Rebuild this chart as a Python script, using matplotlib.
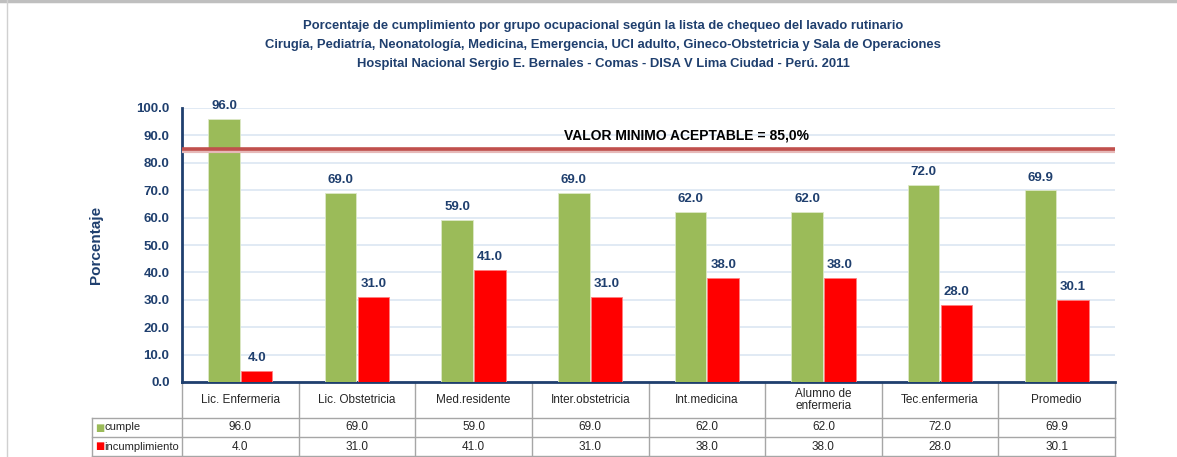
"""
Cumplimiento del lavado rutinario por grupo ocupacional (HNSEB 2011).
Bar chart with a data table drawn under the axis.
"""

import numpy as np
import matplotlib

matplotlib.use("Agg")
import matplotlib.pyplot as plt
import matplotlib.transforms as mtransforms
from matplotlib.lines import Line2D

# ---------------------------------------------------------------- data
GROUPS = ["Lic. Enfermeria", "Lic. Obstetricia", "Med.residente", "Inter.obstetricia",
          "Int.medicina", "Alumno de\nenfermeria", "Tec.enfermeria", "Promedio"]
CUMPLE = [96.0, 69.0, 59.0, 69.0, 62.0, 62.0, 72.0, 69.9]
INCUMPLIMIENTO = [4.0, 31.0, 41.0, 31.0, 38.0, 38.0, 28.0, 30.1]
SERIES = ["cumple", "incumplimiento"]
MINIMO = 85.0
YTICKS = np.arange(0, 101, 10)

TITLE = ("Porcentaje de cumplimiento por grupo ocupacional según la lista de chequeo del lavado rutinario\n"
         "Cirugía, Pediatría, Neonatología, Medicina, Emergencia, UCI adulto, Gineco-Obstetricia y Sala de Operaciones\n"
         "Hospital Nacional Sergio E. Bernales - Comas - DISA V Lima Ciudad - Perú. 2011")

# ---------------------------------------------------------------- style
NAVY, GREEN, RED, LINE = "#1F3F6E", "#9BBB59", "#FF0000", "#C0504D"
GRID, TABLE, INK = "#DCE6F2", "#A6A6A6", "#262626"
plt.rcParams.update({"font.family": ["Liberation Sans", "DejaVu Sans"], "font.size": 10})

fig = plt.figure(figsize=(11.77, 4.57), dpi=100)
ax = fig.add_axes([182 / 1177, 1 - 382 / 457, 933 / 1177, 274 / 457])

x = np.arange(len(GROUPS))
w = 0.27
ax.bar(x - 0.14, CUMPLE, w, color=GREEN, edgecolor="#DDE8C8", lw=0.6, zorder=3)
ax.bar(x + 0.14, INCUMPLIMIENTO, w, color=RED, edgecolor="#FF8080", lw=0.6, zorder=3)
for xi, v in zip(x, CUMPLE):
    ax.annotate(f"{v:.1f}", (xi - 0.14, v), xytext=(0, 5), textcoords="offset points",
                ha="center", va="bottom", color=NAVY, fontweight="bold", fontsize=9.5)
for xi, v in zip(x, INCUMPLIMIENTO):
    ax.annotate(f"{v:.1f}", (xi + 0.14, v), xytext=(0, 5), textcoords="offset points",
                ha="center", va="bottom", color=NAVY, fontweight="bold", fontsize=9.5)

# minimum acceptable line (with a soft shadow)
ax.axhline(MINIMO - 0.6, color="#E6B9B8", lw=3, zorder=4)
ax.axhline(MINIMO, color=LINE, lw=2.6, zorder=5)
ax.text(3.83, 90, "VALOR MINIMO ACEPTABLE = 85,0%", ha="center", va="center",
        fontsize=10, fontweight="bold", color="black", zorder=6)

ax.set_xlim(-0.5, len(GROUPS) - 0.5)
ax.set_ylim(0, 100)
ax.set_yticks(YTICKS)
ax.set_yticklabels([f"{t:.1f}" for t in YTICKS], color=NAVY, fontweight="bold", fontsize=9.5)
ax.tick_params(axis="y", length=0, pad=9)
ax.set_xticks([])
ax.yaxis.grid(True, color=GRID, lw=1.2, zorder=0)
ax.set_axisbelow(True)
ax.spines[["top", "right"]].set_visible(False)
for s in ["left", "bottom"]:
    ax.spines[s].set_color(NAVY)
    ax.spines[s].set_linewidth(2)
ax.set_ylabel("Porcentaje", color=NAVY, fontsize=11, fontweight="bold", labelpad=24)

# ---------------------------------------------------------------- data table
tr = mtransforms.blended_transform_factory(ax.transData, ax.transAxes)
y_head, y_r1, y_r2 = -36 / 274, -55 / 274, -74 / 274
x_lab = -0.5 - 90 / 116.6
kw = dict(transform=tr, color=TABLE, lw=1, clip_on=False)
for b in np.arange(len(GROUPS) + 1) - 0.5:
    ax.add_line(Line2D([b, b], [0, y_r2], **kw))
ax.add_line(Line2D([x_lab, x_lab], [y_head, y_r2], **kw))
for yy in (y_head, y_r1, y_r2):
    ax.add_line(Line2D([x_lab, len(GROUPS) - 0.5], [yy, yy], **kw))

for xi, g, c, n in zip(x, GROUPS, CUMPLE, INCUMPLIMIENTO):
    ax.text(xi, y_head / 2, g, transform=tr, ha="center", va="center",
            fontsize=8.5, color=INK, linespacing=0.95)
    ax.text(xi, (y_head + y_r1) / 2, f"{c:.1f}", transform=tr, ha="center",
            va="center", fontsize=8.5, color=INK)
    ax.text(xi, (y_r1 + y_r2) / 2, f"{n:.1f}", transform=tr, ha="center",
            va="center", fontsize=8.5, color=INK)

for (ylo, yhi), name, col in zip([(y_r1, y_head), (y_r2, y_r1)], SERIES, [GREEN, RED]):
    ym = (ylo + yhi) / 2
    ax.text(x_lab + 0.03, ym, "■", transform=tr, ha="left", va="center",
            fontsize=7, color=col, family=["DejaVu Sans"])
    ax.text(x_lab + 0.105, ym, name, transform=tr, ha="left", va="center",
            fontsize=8, color=INK)

# ---------------------------------------------------------------- title / frame
fig.text(603 / 1177, 1 - 45 / 457, TITLE, ha="center", va="center", color=NAVY,
         fontsize=9.4, fontweight="bold", linespacing=1.8)
fig.add_artist(Line2D([0, 1], [0.997, 0.997], color="#BFBFBF", lw=2.5))
fig.add_artist(Line2D([7 / 1177, 7 / 1177], [0, 1], color="#D0D0D0", lw=1))

fig.savefig("out.png", dpi=100)
